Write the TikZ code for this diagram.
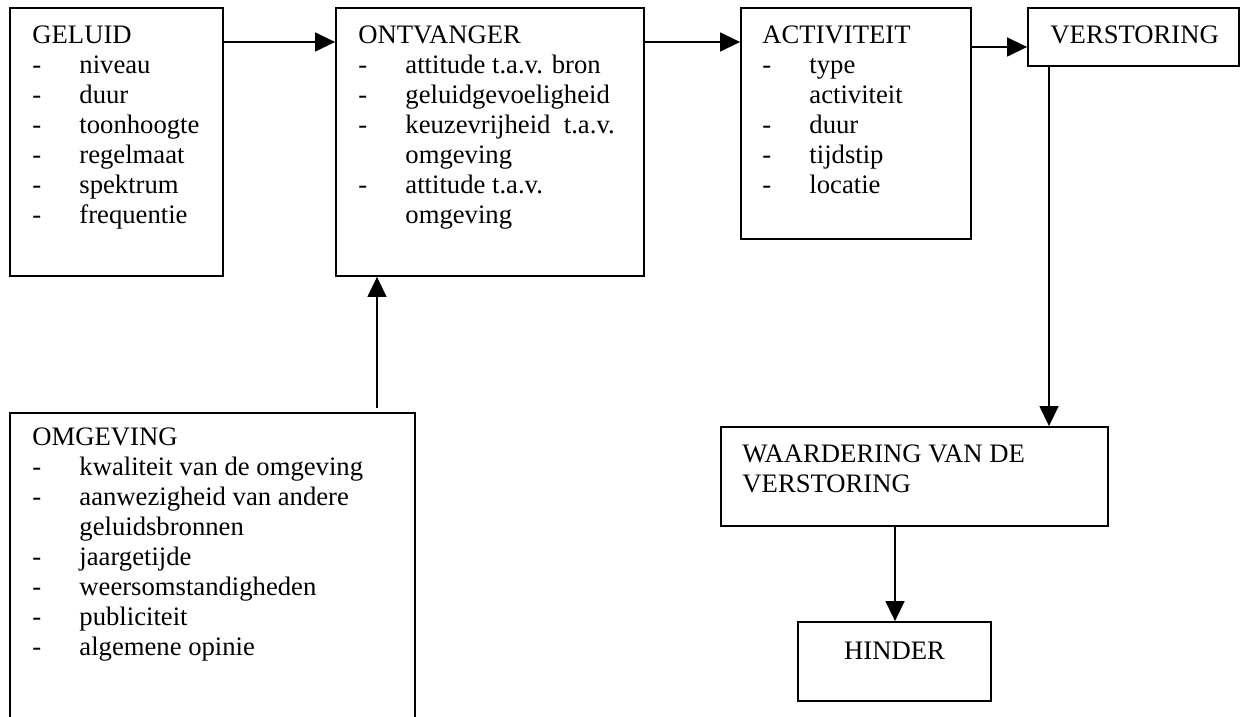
\documentclass[tikz,border=0pt]{standalone}
\usepackage{fontspec}
\setmainfont{Liberation Serif}
\usetikzlibrary{arrows.meta,fit}

\newdimen\px \px=0.45pt
\newcommand{\itm}[1]{\makebox[47\px][l]{-}#1}
\newcommand{\vrv}[1]{\hspace*{47\px}#1}

\begin{document}
\begin{tikzpicture}[x=0.45pt,y=-0.45pt,
  kader/.style={draw, line width=0.8pt, inner sep=0pt},
  tekst/.style={anchor=north west, inner sep=0pt, align=left, font=\fontsize{12}{13.5}\selectfont},
  pijl/.style={line width=0.8pt, -{Triangle[length=9pt,width=8.5pt]}}]
\useasboundingbox (0,0) rectangle (1241,717);
\clip (0,0) rectangle (1241,717);

% kaders
\node [kader, fit={(10,8) (223,276)}] (geluid) {};
\node [kader, fit={(336,8) (644,276)}] (ontvanger) {};
\node [kader, fit={(741,8) (971,239)}] (activiteit) {};
\node [kader, fit={(1028,8) (1239,66)}] (verstoring) {};
\node [kader, fit={(721,427) (1108,526)}] (waardering) {};
\node [kader, fit={(798,622) (991,701)}] (hinder) {};
\node [kader, fit={(10,413) (415,780)}] (omgeving) {};

% teksten
\node [tekst] (geluidtxt) at (32,22) {\strut GELUID\\ \itm{niveau}\\ \itm{duur}\\ \itm{toonhoogte}\\ \itm{regelmaat}\\ \itm{spektrum}\\ \itm{frequentie}};
\node [tekst] (ontvangertxt) at (358,22) {\strut ONTVANGER\\ \itm{attitude t.a.v. bron}\\ \itm{geluidgevoeligheid}\\ \itm{keuzevrijheid\ \ t.a.v.}\\ \vrv{omgeving}\\ \itm{attitude t.a.v.}\\ \vrv{omgeving}};
\node [tekst] (activiteittxt) at (762,22) {\strut ACTIVITEIT\\ \itm{type}\\ \vrv{activiteit}\\ \itm{duur}\\ \itm{tijdstip}\\ \itm{locatie}};
\node [tekst] (verstoringtxt) at (1050,22) {\strut VERSTORING};
\node [tekst] (omgevingtxt) at (32,424) {\strut OMGEVING\\ \itm{kwaliteit van de omgeving}\\ \itm{aanwezigheid van andere}\\ \vrv{geluidsbronnen}\\ \itm{jaargetijde}\\ \itm{weersomstandigheden}\\ \itm{publiciteit}\\ \itm{algemene opinie}};
\node [tekst] (waarderingtxt) at (742,441) {\strut WAARDERING VAN DE\\ VERSTORING};
\node [tekst, anchor=base] (hindertxt) at (894.5,659) {HINDER};

% pijlen
\draw [pijl] (geluid.east |- 0,42) -- (ontvanger.west |- 0,42);
\draw [pijl] (ontvanger.east |- 0,42) -- (activiteit.west |- 0,42);
\draw [pijl] (activiteit.east |- 0,47) -- (verstoring.west |- 0,47);
\draw [pijl] (verstoring.south -| 1049,0) -- (waardering.north -| 1049,0);
\draw [pijl, shorten <=1.8pt] (omgeving.north -| 377,0) -- (ontvanger.south -| 377,0);
\draw [pijl] (waardering.south -| 895,0) -- (hinder.north -| 895,0);
\end{tikzpicture}
\end{document}
